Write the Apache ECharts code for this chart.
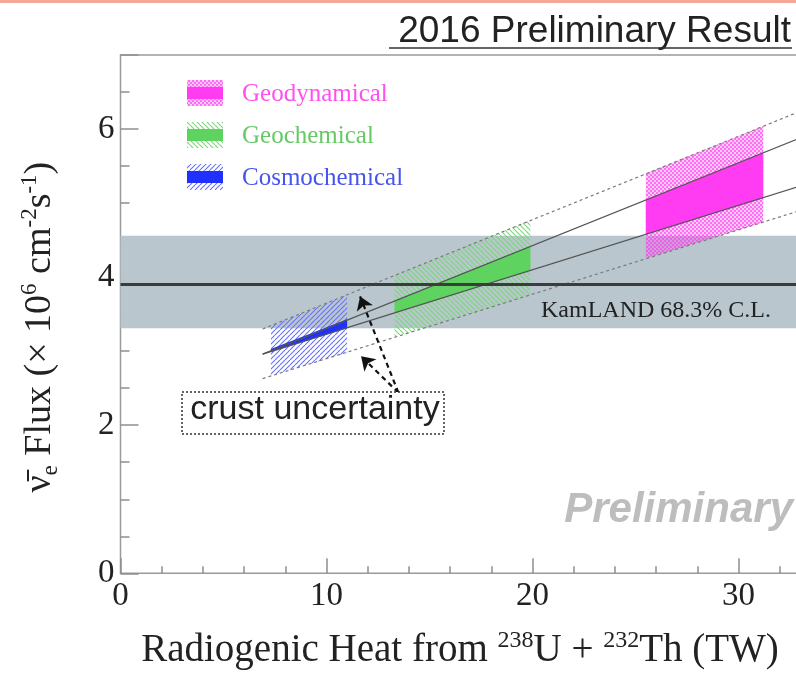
<!DOCTYPE html>
<html>
<head>
<meta charset="utf-8">
<script src="https://cdn.jsdelivr.net/npm/echarts@6/dist/echarts.min.js"></script>
<style>
  html, body { margin: 0; padding: 0; background: #ffffff; }
  #chart { width: 796px; height: 674px; }
</style>
</head>
<body>
<div id="chart"></div>
<script>
// ---- Earth models: heat range (TW) and predicted flux (10^6 cm^-2 s^-1) ----
const modelNames = ['Geodynamical', 'Geochemical', 'Cosmochemical'];
const modelHeatStart = [25.5, 13.3, 7.3];
const modelHeatEnd = [31.2, 19.9, 11.0];
// flux between the two mantle-distribution lines (solid band)
const mantleLowStart = [4.58, 3.52, 2.99];
const mantleHighStart = [5.04, 3.68, 3.03];
const mantleLowEnd = [5.07, 4.09, 3.31];
const mantleHighEnd = [5.68, 4.42, 3.43];
// flux including the crust uncertainty (hatched band)
const crustLowStart = [4.25, 3.19, 2.67];
const crustHighStart = [5.40, 4.02, 3.34];
const crustLowEnd = [4.74, 3.76, 2.98];
const crustHighEnd = [6.04, 4.77, 3.76];

// ---- Prediction lines (end points) ----
const lineHeat = [6.9, 33];
const upperModelFlux = [2.96, 5.88];
const lowerModelFlux = [2.96, 5.23];
const upperCrustFlux = [3.30, 6.24];
const lowerCrustFlux = [2.63, 4.90];

// ---- KamLAND measurement ----
const kamlandFlux = 3.90;
const kamlandRange = [3.31, 4.56];

// ---- Tick labels ----
const xTickLabels = [0, 10, 20, 30];
const yTickLabels = [0, 2, 4, 6];

const SERIF = '"Liberation Serif", "Times New Roman", serif';
const SANS = '"Liberation Sans", Arial, sans-serif';
const TEXT = '#222222';
const AXIS = '#8e8e8e';

// small repeating tiles used as hatch fills
function makePattern(kind, color) {
  const s = kind === 'dots' ? 4 : 5;
  const c = document.createElement('canvas');
  c.width = s; c.height = s;
  const g = c.getContext('2d');
  if (kind === 'dots') {
    g.fillStyle = color;
    g.globalAlpha = 0.75; g.fillRect(0, 0, 2, 2); g.fillRect(2, 2, 2, 2);
    g.globalAlpha = 0.28; g.fillRect(2, 0, 2, 2); g.fillRect(0, 2, 2, 2);
  } else {
    g.strokeStyle = color; g.lineWidth = 1.1;
    g.beginPath();
    for (const o of [-s, 0, s]) {
      if (kind === 'forward') { g.moveTo(o, s); g.lineTo(o + s, 0); }
      else { g.moveTo(o, 0); g.lineTo(o + s, s); }
    }
    g.stroke();
  }
  return c;
}

const palette = [
  { solid: '#ff3cf2', hatch: makePattern('dots', '#ff3cf0'), text: '#ff50ee' },
  { solid: '#5fd35f', hatch: makePattern('back', '#78d878'), text: '#66c966' },
  { solid: '#1f30ff', hatch: makePattern('forward', '#6670ff'), text: '#4654ee' }
];

const hatchData = modelNames.map((n, i) => [modelHeatStart[i], modelHeatEnd[i],
  crustLowStart[i], crustHighStart[i], crustLowEnd[i], crustHighEnd[i], i]);
const solidData = modelNames.map((n, i) => [modelHeatStart[i], modelHeatEnd[i],
  mantleLowStart[i], mantleHighStart[i], mantleLowEnd[i], mantleHighEnd[i], i]);

function bandRenderer(hatched) {
  return function (params, api) {
    const i = api.value(6);
    const pts = [
      api.coord([api.value(0), api.value(2)]),
      api.coord([api.value(1), api.value(4)]),
      api.coord([api.value(1), api.value(5)]),
      api.coord([api.value(0), api.value(3)])
    ];
    return {
      type: 'polygon',
      shape: { points: pts },
      style: { fill: hatched ? { image: palette[i].hatch, repeat: 'repeat' } : palette[i].solid }
    };
  };
}

function straight(flux) {
  return lineHeat.map((h, k) => [h, flux[k]]);
}

const tickStyle = { color: AXIS, width: 1.5 };

const legendGraphics = modelNames.map((name, i) => {
  const cy = 93 + i * 42;
  return {
    type: 'group', silent: true,
    children: [
      { type: 'rect', shape: { x: 187, y: cy - 13, width: 36, height: 26 },
        style: { fill: { image: palette[i].hatch, repeat: 'repeat' } } },
      { type: 'rect', shape: { x: 187, y: cy - 6, width: 36, height: 12 },
        style: { fill: palette[i].solid } },
      { type: 'text', x: 242, y: cy + 1,
        style: { text: name, font: '25px ' + SERIF, fill: palette[i].text, align: 'left', verticalAlign: 'middle' } }
    ]
  };
});

const chart = echarts.init(document.getElementById('chart'), null, { renderer: 'canvas' });

chart.setOption({
  animation: false,
  backgroundColor: '#ffffff',
  grid: {
    show: true, left: 120.5, top: 55, width: 824, height: 518.3,
    borderColor: '#9a9a9a', borderWidth: 1.5, backgroundColor: 'transparent',
    containLabel: false, outerBoundsMode: 'none'
  },
  xAxis: {
    type: 'value', min: 0, max: 40, interval: 10,
    axisLine: { show: false }, splitLine: { show: false },
    axisTick: { show: true, inside: true, length: 15, lineStyle: tickStyle },
    minorTick: { show: true, splitNumber: 5, length: 7, lineStyle: tickStyle },
    axisLabel: {
      margin: 7, fontFamily: SERIF, fontSize: 33, color: TEXT,
      formatter: v => (xTickLabels.includes(v) ? String(v) : '')
    },
    name: 'Radiogenic Heat from {sup|238}U + {sup|232}Th (TW)',
    nameLocation: 'middle', nameGap: 55, nameMoveOverlap: false,
    nameTextStyle: {
      fontFamily: SERIF, fontSize: 39, color: TEXT, lineHeight: 45,
      padding: [0, 145, 0, 0],
      rich: { sup: { fontFamily: SERIF, fontSize: 24, color: TEXT, lineHeight: 25, verticalAlign: 'top' } }
    }
  },
  yAxis: [
    {
      type: 'value', min: 0, max: 7, interval: 2,
      axisLine: { show: false }, splitLine: { show: false },
      axisTick: { show: true, inside: true, length: 18, lineStyle: tickStyle },
      axisLabel: {
        margin: 6, fontFamily: SERIF, fontSize: 33, color: TEXT,
        formatter: v => (yTickLabels.includes(v) ? String(v) : '')
      },
      name: 'ν̄{sub|e} Flux (× 10{sup|6} cm{sup|-2}s{sup|-1})',
      nameLocation: 'middle', nameGap: 58, nameMoveOverlap: false,
      nameTextStyle: {
        fontFamily: SERIF, fontSize: 38, color: TEXT, lineHeight: 44,
        padding: [0, 26, 0, 0],
        rich: {
          sup: { fontFamily: SERIF, fontSize: 23, color: TEXT, lineHeight: 24, verticalAlign: 'top' },
          sub: { fontFamily: SERIF, fontSize: 23, color: TEXT, lineHeight: 24, verticalAlign: 'bottom' }
        }
      }
    },
    {
      type: 'value', min: 0, max: 7, interval: 0.5, position: 'left',
      axisLine: { show: false }, splitLine: { show: false }, axisLabel: { show: false },
      axisTick: { show: true, inside: true, length: 9, lineStyle: tickStyle }
    }
  ],
  series: [
    {
      name: 'KamLAND band', type: 'line', data: [], z: 1, silent: true,
      markArea: {
        silent: true, z: 1,
        itemStyle: { color: '#b9c6cd' },
        data: [[{ yAxis: kamlandRange[0] }, { yAxis: kamlandRange[1] }]]
      }
    },
    {
      name: 'crust uncertainty', type: 'custom', z: 2, silent: true,
      renderItem: bandRenderer(true), data: hatchData,
      encode: { x: [0, 1], y: [2, 3, 4, 5] }
    },
    {
      name: 'mantle models', type: 'custom', z: 3, silent: true,
      renderItem: bandRenderer(false), data: solidData,
      encode: { x: [0, 1], y: [2, 3, 4, 5] }
    },
    { type: 'line', z: 4, silent: true, showSymbol: false, data: straight(upperModelFlux),
      lineStyle: { color: '#555555', width: 1.3 } },
    { type: 'line', z: 4, silent: true, showSymbol: false, data: straight(lowerModelFlux),
      lineStyle: { color: '#555555', width: 1.3 } },
    { type: 'line', z: 4, silent: true, showSymbol: false, data: straight(upperCrustFlux),
      lineStyle: { color: '#7a7a7a', width: 1.2, type: [3, 3] } },
    { type: 'line', z: 4, silent: true, showSymbol: false, data: straight(lowerCrustFlux),
      lineStyle: { color: '#7a7a7a', width: 1.2, type: [3, 3] } },
    { name: 'KamLAND', type: 'line', z: 5, silent: true, showSymbol: false,
      data: [[0, kamlandFlux], [40, kamlandFlux]],
      lineStyle: { color: '#3c3c3c', width: 3 } },
    {
      name: 'arrows', type: 'line', data: [], z: 6, silent: true,
      markLine: {
        silent: true, z: 6,
        symbol: ['none', 'arrow'], symbolSize: 13,
        lineStyle: { color: '#111111', width: 2.2, type: [5, 4] },
        label: { show: false },
        data: [
          [{ coord: [13.49, 2.44] }, { coord: [11.63, 3.74] }],
          [{ coord: [13.49, 2.44] }, { coord: [11.68, 2.93] }]
        ]
      }
    }
  ],
  graphic: [
    { type: 'rect', silent: true, shape: { x: 0, y: 0, width: 796, height: 3 }, style: { fill: '#f6a898' } },
    { type: 'text', silent: true, x: 791, y: 32,
      style: { text: '2016 Preliminary Result', font: '37px ' + SANS, fill: TEXT, align: 'right', verticalAlign: 'middle' } },
    { type: 'line', silent: true, shape: { x1: 389, y1: 48, x2: 792, y2: 48 }, style: { stroke: '#333333', lineWidth: 1.5 } },
    ...legendGraphics,
    { type: 'text', silent: true, x: 771, y: 311, z: 10,
      style: { text: 'KamLAND 68.3% C.L.', font: '24px ' + SERIF, fill: TEXT, align: 'right', verticalAlign: 'middle' } },
    { type: 'rect', silent: true, z: 10, shape: { x: 182, y: 392, width: 262, height: 42 },
      style: { fill: '#ffffff', stroke: '#333333', lineWidth: 1.5, lineDash: [2, 2] } },
    { type: 'text', silent: true, z: 11, x: 315, y: 410,
      style: { text: 'crust uncertainty', font: '34px ' + SANS, fill: TEXT, align: 'center', verticalAlign: 'middle' } },
    { type: 'text', silent: true, z: 10, x: 793, y: 510,
      style: { text: 'Preliminary', font: 'italic bold 42px ' + SANS, fill: '#bdbdbd', align: 'right', verticalAlign: 'middle' } }
  ]
});
</script>
</body>
</html>
